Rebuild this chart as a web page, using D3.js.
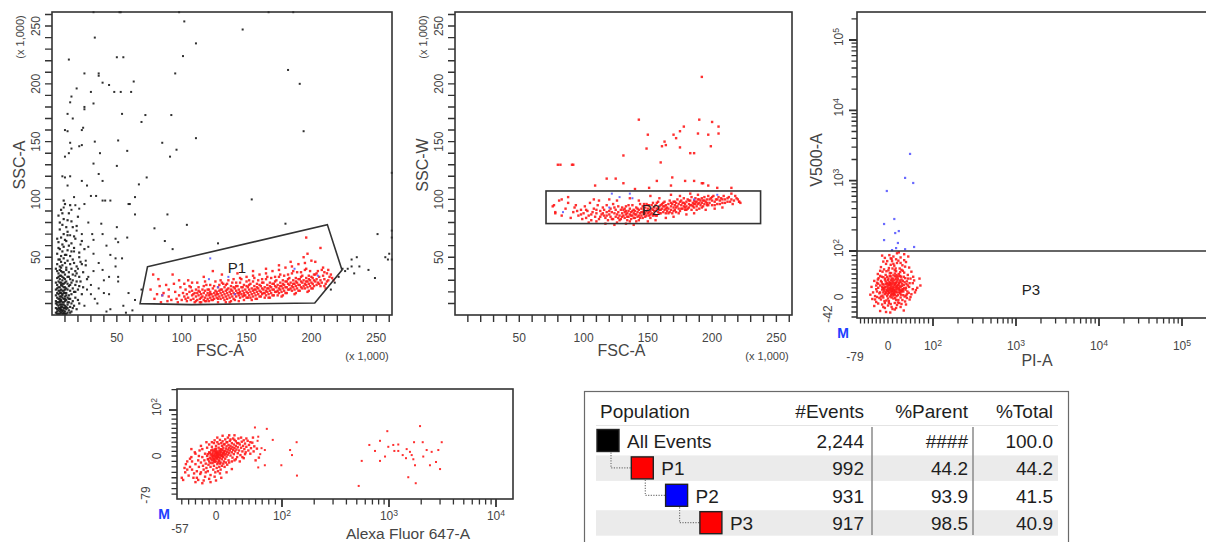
<!DOCTYPE html>
<html>
<head>
<meta charset="utf-8">
<script src="https://cdn.jsdelivr.net/npm/d3@7/dist/d3.min.js"></script>
<style>
  html, body { margin: 0; padding: 0; background: #fff; }
  svg { display: block; }
  text { font-family: "Liberation Sans", Arial, sans-serif; fill: #454545; }
</style>
</head>
<body>
<svg id="chart" width="1206" height="542"></svg>
<script>
// ---------------- Events: FSC-A vs SSC-A (x 1,000) ----------------
// debris / low-FSC events outside P1
const debrisCore = [[3,2],[4,5],[5,1],[5,8],[6,3],[6,6],[7,2],[7,9],[8,4],[8,7],[9,1],[9,6],[10,3],[10,8],[11,5],[12,2],[12,9],[13,4],[14,7],[4,9],[3,6],[6,9],[8,1],[11,1],[15,3],[16,6],[9,4],[7,5],[5,4],[10,6],
[3,12],[4,15],[5,11],[5,18],[6,14],[6,19],[7,12],[7,16],[8,11],[8,18],[9,14],[9,19],[10,12],[10,16],[11,13],[11,19],[12,15],[13,11],[13,17],[14,14],[15,18],[16,12],[4,19],[6,11],[8,15],[10,19],[12,11],[18,15],[20,13],[3,17],
[3,22],[4,26],[5,21],[5,29],[6,24],[7,22],[7,28],[8,25],[9,21],[9,27],[10,24],[11,29],[12,22],[12,27],[13,25],[14,21],[15,28],[16,23],[18,26],[20,22],[4,23],[6,28],[8,21],[10,28],[11,23],[22,29],[17,20],[24,24],
[4,32],[5,36],[6,31],[6,39],[7,34],[8,37],[9,32],[10,35],[11,39],[12,33],[13,37],[14,31],[16,35],[18,38],[5,33],[8,30],[10,31],[21,33],[24,37],[27,31],
[4,44],[5,48],[6,42],[7,46],[8,43],[9,49],[10,45],[11,41],[12,47],[14,44],[16,48],[19,42],[22,46],[26,43],[7,41],
[4,53],[6,57],[7,51],[8,55],[9,59],[10,52],[12,56],[14,51],[17,58],[21,54],[25,57],
[5,63],[7,67],[8,61],[10,65],[12,69],[15,62],[18,66],[23,64],
[6,74],[8,78],[9,83],[11,76],[13,88],[7,91],[10,96],[12,72],[15,81],[19,77],[5,86],[9,99],
[4,3],[5,6],[6,1],[7,7],[8,3],[9,9],[10,1],[11,7],[6,5],[7,4],[8,9],[9,2],[4,11],[5,14],[6,16],[7,13],[8,17],[9,11],[10,14],[11,17],[7,19],[5,24],[6,21],[8,27],[9,24],[7,26],[10,22],[6,34],[8,33],[9,37],[7,38],
[14,26],[16,30],[18,20],[19,29],[21,25],[23,18],[13,33],[15,40],[17,45],[19,36],[21,50],[23,44],[11,52],[13,60],[15,55],[17,68],[9,70],[11,64],[6,48],[4,38],[3,28],[3,40],[5,58],[4,66],[6,80],[8,88],[12,82],[14,95],[16,76],[20,85],[3,10],[4,1],[6,12],[12,6],[13,14],[14,2],[15,10],[17,8],[19,5],[21,10]];

const scatterOutside = [[13,221],[147,247],[111,235],[102,254],[33,240],[50,223],[55,223],[101,224],[25,209],[36,209],[36,207],[39,201],[44,199],[63,202],[95,209],[182,212],[191,200],[19,196],[30,193],[48,193],[53,193],[61,193],[15,189],[14,184],[25,180],[25,178],[32,183],[54,174],[72,173],[92,173],[69,167],[12,174],[16,170],[10,160],[12,159],[23,160],[24,162],[33,150],[51,151],[58,142],[85,149],[96,143],[111,153],[91,137],[194,159],[14,149],[15,144],[21,146],[23,147],[13,140],[37,140],[10,137],[32,131],[50,129],[36,122],[73,119],[39,116],[8,120],[10,119],[14,120],[23,116],[12,112],[27,112],[67,113],[30,103],[34,103],[17,102],[25,96],[39,99],[41,99],[45,99],[59,96],[60,96],[64,102],[64,87],[89,87],[154,100],[9,93],[18,95],[15,91],[21,92],[28,80],[38,79],[50,76],[79,75],[104,78],[128,62],[180,79],[87,64],[93,57],[58,67],[49,66],[51,63],[42,60],[32,65],[39,70],[31,70],[23,70],[19,73],[14,69],[28,59],[32,53],[45,52],[49,49],[54,49],[36,45],[39,39],[49,42],[51,33],[44,33],[32,38],[28,33],[30,26],[36,23],[40,19],[51,29],[59,19],[69,22],[64,13],[44,18],
[224,40],[231,48],[235,50],[231,42],[237,42],[244,39],[233,36],[228,40],[249,32],[251,70],[262,73],[262,67],[260,53],[262,48],[259,48],[257,50],[262,123],[218,28],[215,22],[221,33],[226,38],
[32,262],[52,262],[53,262],[98,262],[167,262],[186,262],
[20,40],[26,47],[17,55],[22,61],[30,18],[25,8],[35,10],[45,5],[55,8],[62,4],[40,30],[18,34],[27,22],[33,14],[42,3],[57,2]];

// P1 events (FSC-A, SSC-A)
const p1FscSscA = [[76,22],[79,14],[82,31],[84,11],[86,19],[88,26],[90,16],[92,13],[93,35],[95,20],[97,11],[98,17],[99,24],[96,14],[89,12],[85,17],
[100,13],[101,19],[102,16],[103,22],[104,12],[104,18],[105,15],[106,20],[106,25],[107,13],[108,17],[108,21],[109,14],[110,19],[110,11],[102,27],[105,30],
[111,16],[111,22],[112,13],[112,19],[113,17],[113,24],[114,14],[114,20],[115,11],[115,18],[116,16],[116,22],[117,13],[117,19],[118,15],[118,21],[119,17],[119,26],[120,14],[120,19],[112,28],[117,33],[114,11],[119,12],
[121,17],[121,22],[122,15],[122,20],[123,13],[123,18],[124,16],[124,23],[125,19],[125,14],[126,17],[126,21],[127,15],[127,20],[128,18],[128,24],[129,16],[129,21],[130,14],[130,19],[122,26],[126,29],[128,11],[124,38],[121,12],[129,26],
[131,17],[131,22],[132,15],[132,20],[133,18],[133,24],[134,16],[134,21],[135,19],[135,14],[136,17],[136,23],[137,20],[137,15],[138,18],[138,25],[139,16],[139,21],[140,19],[140,14],[132,27],[136,30],[138,12],[134,11],[140,24],[131,35],
[141,18],[141,23],[142,16],[142,21],[143,19],[143,25],[144,17],[144,22],[145,20],[145,15],[146,18],[146,24],[147,21],[147,16],[148,19],[148,26],[149,17],[149,22],[150,20],[150,15],[142,28],[146,31],[148,13],[144,12],[150,25],[143,36],
[151,19],[151,24],[152,17],[152,22],[153,20],[153,27],[154,18],[154,23],[155,21],[155,16],[156,19],[156,25],[157,22],[157,17],[158,20],[158,27],[159,18],[159,23],[160,21],[160,16],[152,30],[156,32],[158,14],[154,13],[160,26],[155,38],
[161,20],[161,25],[162,18],[162,23],[163,22],[163,28],[164,19],[164,24],[165,21],[165,17],[166,20],[166,26],[167,23],[167,18],[168,21],[168,28],[169,19],[169,24],[170,22],[170,17],[162,31],[166,33],[168,15],[164,15],[170,27],[165,40],
[171,22],[171,27],[172,20],[172,25],[173,24],[173,30],[174,21],[174,26],[175,23],[175,19],[176,22],[176,28],[177,25],[177,20],[178,23],[178,30],[179,21],[179,26],[180,24],[180,19],[172,33],[176,35],[178,17],[174,17],[180,29],[175,43],
[181,24],[181,29],[182,22],[182,27],[183,26],[183,32],[184,23],[184,28],[185,25],[185,21],[186,24],[186,30],[187,27],[187,22],[188,25],[188,32],[189,23],[189,28],[190,26],[190,21],[182,35],[186,38],[188,19],[184,46],[190,31],
[191,26],[191,31],[192,24],[192,29],[193,28],[193,34],[194,25],[194,30],[195,27],[195,23],[196,26],[196,32],[197,29],[197,24],[198,27],[198,34],[199,25],[199,30],[200,28],[200,23],[192,37],[196,40],[198,21],[194,50],[200,33],[197,53],
[201,27],[201,32],[202,25],[202,30],[203,29],[203,35],[204,26],[204,31],[205,28],[206,33],[207,30],[207,25],[208,28],[209,34],[210,31],[211,27],[212,36],[213,30],[214,33],[216,32],[205,38],[209,41],[211,23],[203,46],[207,58],[196,67],
[103,14],[107,24],[109,18],[111,12],[113,21],[115,15],[117,25],[118,12],[120,22],[122,18],[124,13],[125,25],[127,18],[128,14],[130,22],[131,28],[133,13],[134,26],[135,22],[137,11],[138,22],[139,28],[141,13],[142,25],[144,19],[145,28],[147,24],[148,17],[150,29],[151,15],[152,26],[153,15],[155,29],[156,22],[157,14],[158,24],[159,30],[161,16],[162,28],[163,19],[165,31],[166,23],[167,15],[168,25],[169,32],[171,17],[172,29],[173,20],[175,33],[176,25],[177,16],[178,27],[179,34],[181,19],[182,31],[183,22],[185,36],[186,27],[187,18],[188,29],[189,37],[191,21],[192,33],[193,23],[195,39],[196,29],[197,20],[198,31],[199,38],[201,23],[202,35],[204,36],[206,27],[208,39],[210,25],[212,29],[213,39],[215,35],[217,30],[210,37],[160,35],[150,33],[140,31],[130,30],[170,38],[180,41],[190,44],[200,47],[135,27],[145,32],[155,34],[165,36],[175,39],[185,42],[195,45],[118,29],[108,28],[98,30],[90,22],[94,27],[81,18],[83,25],[78,35]];

// P2 events that fall outside P3 (drawn in the P2 colour)
const p2OnlyFscSscA = [[122,49],[85,17],[121,31],[136,33],[187,40],[205,34],[128,24],[141,18]];

// ---------------- P1 events: FSC-A vs SSC-W (x 1,000) ----------------
const p1FscSscW = [[76,94],[78,88],[81,99],[83,86],[86,92],[88,97],[90,84],[92,89],[94,95],[96,86],[98,91],[99,83],[80,130],[91,130],
[100,88],[101,94],[102,84],[103,90],[104,86],[105,97],[106,82],[107,89],[108,92],[109,85],[110,88],[111,95],[112,83],[113,90],[114,87],[115,93],[104,80],[108,100],[112,99],[110,81],
[116,86],[116,91],[117,84],[118,89],[118,95],[119,82],[120,87],[121,92],[121,85],[122,89],[123,83],[123,96],[124,88],[125,91],[125,85],[126,80],[127,89],[127,94],[128,86],[129,91],[129,83],[130,88],[130,93],[126,99],[120,100],[117,79],[124,78],
[131,86],[131,91],[132,84],[132,89],[133,87],[133,94],[134,82],[134,88],[135,90],[135,85],[136,87],[136,92],[137,83],[137,89],[138,86],[138,95],[139,88],[139,91],[140,84],[140,90],[141,87],[141,93],[142,85],[142,89],[143,91],[143,82],[144,88],[144,96],[145,86],[145,92],[133,79],[139,78],[136,101],[143,99],
[146,89],[146,94],[147,87],[147,91],[148,85],[148,93],[149,90],[149,96],[150,88],[150,92],[151,86],[151,95],[152,90],[152,84],[153,92],[153,88],[154,97],[154,91],[155,87],[155,93],[156,90],[156,95],[157,86],[157,92],[158,89],[158,98],[159,91],[159,94],[160,88],[160,95],[150,81],[156,82],[152,103],[159,101],
[161,92],[161,96],[162,89],[162,94],[163,91],[163,98],[164,88],[164,95],[165,93],[165,90],[166,96],[166,92],[167,89],[167,99],[168,94],[168,91],[169,96],[169,88],[170,93],[170,98],[171,91],[171,95],[172,97],[172,89],[173,94],[173,100],[174,92],[174,96],[175,90],[175,98],[164,84],[170,85],[168,104],[175,103],
[176,95],[176,99],[177,92],[177,97],[178,94],[178,101],[179,96],[179,91],[180,98],[180,94],[181,92],[181,100],[182,96],[182,93],[183,99],[183,95],[184,91],[184,102],[185,97],[185,94],[186,99],[186,93],[187,96],[187,101],[188,98],[188,94],[189,100],[189,96],[190,97],[190,92],[180,87],[186,88],[183,105],[189,104],
[191,99],[191,95],[192,101],[192,97],[193,94],[193,99],[194,102],[194,96],[195,98],[196,100],[196,95],[197,103],[198,97],[199,101],[200,99],[200,95],[201,103],[202,98],[203,100],[204,96],[205,102],[206,99],[207,101],[208,97],[209,103],[210,100],[212,98],[213,102],[215,100],[217,99],[219,101],[221,98],[222,97],[195,91],[202,92],[208,93],
[192,206],[143,169],[150,156],[149,144],[160,132],[161,146],[163,150],[164,147],[172,153],[170,156],[175,159],[178,163],[186,140],[183,140],[190,169],[189,157],[197,156],[200,167],[205,157],[205,163],[199,146],[131,138],[82,130],[92,130],[175,145],
[109,112],[118,118],[125,118],[131,114],[140,109],[151,110],[157,116],[169,119],[168,112],[179,116],[186,116],[192,114],[193,114],[197,112],[204,110],[215,110],[215,105],[221,98],[88,102],[83,100],[77,95],[78,89],[93,93],
[118,86],[120,90],[122,83],[124,93],[126,87],[128,82],[130,85],[132,92],[134,85],[135,95],[136,81],[137,86],[138,90],[139,84],[140,87],[141,81],[142,92],[143,86],[144,84],[145,89],[146,84],[147,96],[148,88],[149,86],[150,95],[151,89],[152,87],[153,95],[154,86],[155,90],[156,86],[157,97],[158,92],[160,91],[162,97],[164,92],[166,88],[168,97],[170,90],[172,93],[174,88],[176,92],[178,97],[180,91],[182,99],[184,95],[186,96],[188,91],[190,100],[192,93],[194,99],[196,97],[198,100],[200,102],[202,95],[204,100],[206,96],[208,100],[210,97],[212,101],[214,98],[216,96],[218,103],[220,100],[110,91],[106,87],[102,91],[98,87],[95,90],[113,85],[115,88],[127,84],[133,90],[147,89],[159,88],[163,94],[171,98],[179,93],[187,98],[197,95]];
const p2OnlyFscSscW = [[84,89],[122,105],[128,102],[136,105],[138,101],[186,100],[204,104],[120,93]];

// ---------------- P2 events: PI-A vs V500-A ----------------
const p3PiV500 = [[-20,-28],[5,-31],[15,-25],[-8,-22],[28,-20],[-35,-18],[0,-17],[20,-16],[-15,-15],[10,-24],[35,-27],[-5,-30],[25,-12],
[-30,-10],[-18,-5],[-8,-12],[2,-8],[12,-3],[22,-11],[32,-6],[42,-2],[-40,-4],[-12,-1],[6,-14],[18,-6],[28,-1],[-25,-13],[38,-9],[0,-3],[-4,-7],[15,-12],[8,-1],[48,-5],
[-45,5],[-33,2],[-22,8],[-14,3],[-6,11],[0,6],[5,1],[9,13],[14,7],[19,2],[24,10],[29,5],[34,12],[40,3],[46,9],[52,6],[-28,12],[-10,14],[3,9],[12,12],[22,4],[31,14],[-18,1],[-2,2],[7,4],[17,11],[27,8],[37,1],[60,10],[-38,10],
[-42,22],[-30,17],[-20,25],[-13,19],[-5,28],[1,16],[6,23],[11,18],[16,27],[21,20],[26,15],[31,24],[36,19],[41,28],[47,22],[55,17],[-25,29],[-9,21],[4,30],[13,15],[18,22],[24,29],[33,17],[44,25],[-15,16],[-1,24],[9,27],[20,16],[28,21],[39,16],[65,20],[72,25],
[-35,35],[-24,41],[-16,32],[-8,38],[-2,44],[3,33],[8,40],[14,36],[19,43],[25,31],[30,38],[35,44],[42,34],[50,40],[-12,43],[0,37],[11,31],[17,39],[23,45],[28,33],[38,41],[58,36],[-28,31],[6,45],[70,40],
[-26,50],[-14,55],[-6,48],[1,58],[7,52],[12,47],[18,56],[24,50],[30,59],[36,53],[44,48],[-20,57],[4,46],[15,51],[27,46],[33,57],[52,55],[-10,60],
[-18,65],[-5,72],[2,63],[9,78],[14,68],[20,74],[26,62],[32,69],[40,76],[-12,77],[6,70],[23,79],[47,64],[17,62],[36,80],
[-8,85],[3,91],[12,88],[20,95],[28,86],[36,93],[-15,90],[8,83],[24,97],[45,88],
[2,10],[6,18],[10,22],[14,26],[4,15],[8,8],[12,3],[16,14],[18,30],[0,20],[-4,16],[-8,6],[10,35],[22,26],[26,36],[5,27],[15,5],[20,10],[-3,31],[28,12],[31,29],[9,17],[13,21],[19,33],[-11,27],[24,19],[7,36],[1,40],[16,45],[-6,34],
[-20,10],[-15,22],[-10,18],[-5,8],[0,12],[5,20],[10,6],[15,30],[20,24],[25,16],[30,12],[35,26],[40,20],[-25,20],[-18,35],[-12,10],[-6,22],[-2,14],[3,26],[7,12],[11,40],[13,9],[17,18],[21,36],[26,24],[29,44],[32,16],[37,32],[43,12],[48,30],[-30,25],[-22,-2],[-16,44],[-9,-8],[2,-12],[8,-20],[16,-2],[23,-6],[34,4],[44,40],[55,30],[62,15],[-33,-5],[-26,38],[4,52],[10,62],[19,48],[27,54],[38,66],[-4,56],[12,72],[28,74],[6,84],[18,82],[-2,78],[30,-14],[-12,-20],[18,-22],[40,-15],[-28,0],[50,0],[56,44],[-20,46],[22,40],[15,58],[-7,40],[0,28],[7,30],[33,35],[42,6],[-14,28]];
const p2OnlyPiV500 = [[49,2400],[38,1095],[56,927],[-3,713],[14,285],[-10,242],[24,192],[16,180],[-10,143],[22,130],[18,110],[58,114],[9,103],[38,106]];
const p3GateV500 = 100;

// ---------------- Alexa Fluor 647-A ----------------
const alexaMain = [[-48,-44],[-45,-30],[-40,-36],[-38,-20],[-35,-25],[-33,-40],[-30,-15],[-28,-28],[-26,-8],[-25,-20],[-23,-33],[-22,-12],[-20,-2],[-19,-18],[-18,-25],[-17,-8],[-16,5],[-15,-14],[-14,-22],[-13,0],[-12,-6],[-11,-16],[-10,8],[-10,-10],[-9,-3],[-8,-20],[-8,3],[-7,12],[-6,-8],[-6,-1],[-5,6],[-5,-13],[-4,-4],[-4,10],[-3,1],[-3,-18],[-2,-7],[-2,4],[-1,15],[-1,-2],[0,7],[0,-10],[0,1],[1,-5],[1,11],[2,3],[2,-15],[3,-1],[3,8],[4,18],[4,-8],[5,2],[5,12],[6,-4],[6,6],[7,-12],[7,15],[8,0],[8,9],[9,22],[9,-6],[10,4],[10,13],[11,-2],[11,18],[12,7],[12,-10],[13,26],[13,2],[14,11],[14,-5],[15,16],[15,5],[16,21],[16,-1],[17,9],[17,30],[18,14],[18,3],[19,24],[19,-8],[20,7],[20,18],[21,12],[21,33],[22,1],[22,22],[23,16],[24,8],[24,28],[25,-3],[25,19],[26,13],[27,25],[27,4],[28,35],[28,17],[29,10],[30,22],[30,-6],[31,14],[32,28],[33,6],[33,19],[34,38],[35,12],[36,25],[37,2],[38,18],[39,31],[40,10],[41,22],[42,-4],[43,15],[44,27],[45,8],[46,20],[48,33],[49,12],[50,24],[52,5],[53,17],[55,29],[57,10],[58,21],[60,-8],
[-6,3],[-3,-6],[0,-3],[2,6],[-1,9],[4,-2],[-4,0],[1,1],[3,4],[-2,-11],[6,10],[-7,-5],[8,14],[5,-9],[-9,7],[10,-1],[-5,14],[7,3],[-11,-6],[12,10],[-8,-13],[2,-4],[-2,12],[0,16],[3,-12],[9,1],[-12,4],[6,-14],[11,6],[-3,-9],
[-50,-40],[-42,-10],[-36,-2],[-31,8],[-24,12],[-46,-22],
[-35,-10],[-30,5],[-28,-40],[-25,0],[-22,-30],[-20,15],[-18,-45],[-15,-30],[-13,18],[-12,-28],[-10,25],[-8,-35],[-6,20],[-4,-25],[-3,28],[-1,-30],[0,22],[1,-22],[2,30],[3,-28],[4,26],[5,-20],[6,35],[7,-25],[8,28],[9,-18],[10,32],[11,-14],[12,25],[13,-20],[14,36],[15,-12],[16,30],[17,-16],[18,40],[20,-12],[22,36],[24,-10],[26,38],[28,-8],[30,32],[32,-2],[34,28],[36,-10],[38,40],[40,-2],[42,34],[44,4],[46,38],[-16,-38],[-10,-42],[-2,-38],[6,-32],[-42,-25],[-38,-5],[-32,-32],[-44,-15],[-26,-44],[-6,30],[2,40],[10,44],[20,45],[28,45],[-14,30],[-22,22],[-30,-48],[-20,-50],[-8,-48],[0,-45],[52,30],[56,40],[62,16],[65,-3],[8,-40],[16,-30],[24,-24],[-36,15],[-2,34]];
const alexaHigh = [[59,62],[77,59],[64,42],[63,33],[69,17],[74,13],[67,4],[86,35],[64,-21],[74,-17],[99,-17],[119,13],[137,30],[124,2],[138,-36],
[556,-9],[655,24],[740,11],[824,33],[824,-9],[964,54],[985,20],[1096,24],[1221,25],[1221,11],[1343,2],[1442,-4],[1514,-39],[1570,9],[1630,2],[1688,-6],[1714,30],[1750,-17],[1778,-50],[1950,65],[2066,30],[2090,-1],[2249,13],[2415,-17],[2505,9],[2750,-11],[2890,13],[3000,-24],[3110,30],[521,-55],[918,-1],[1463,15],[1122,11]];

// ---------------- Gates ----------------
const p1Gate = [[73.6,41.7],[212.3,78.2],[223.6,38.9],[202.6,10.4],[107.7,9.0],[67.9,9.8]];
const p2GateFsc = [70.8, 237.7];
const p2GateSscW = [79.1, 107.3];

// ---------------- Population hierarchy ----------------
const tableHeader = ["Population", "#Events", "%Parent", "%Total"];
const popNames = ["All Events", "P1", "P2", "P3"];
const popEvents = ["2,244", "992", "931", "917"];
const popParent = ["####", "44.2", "93.9", "98.5"];
const popTotal = ["100.0", "44.2", "41.5", "40.9"];
const popColors = ["#000000", "#ff0000", "#0000ff", "#ff0000"];

// ================= drawing =================
const svg = d3.select("#chart");
const INK = "#333";
const RED = "#ff1a1a", BLACK = "#1a1a1a", BLUE = "#5a5aff";

// linear region around zero joined to a log region above 100
function hybridScale(lo, linRange, logTop, logRange) {
  const lin = d3.scaleLinear([lo, 0, 100], linRange);
  const lg = d3.scaleLog([100, logTop], logRange);
  return v => (v <= 100 ? lin(v) : lg(v));
}
function hybridTicks(lo, hi) {
  const t = [];
  for (let v = Math.ceil(lo / 10) * 10; v < 100; v += 10) t.push({ v, major: false });
  for (let e = 2; Math.pow(10, e) <= hi; e++)
    for (let k = 1; k <= 9; k++) {
      const v = k * Math.pow(10, e);
      if (v <= hi) t.push({ v, major: k === 1 });
    }
  return t;
}
// tick marks as one path per axis
function tickPath(g, positions, orient, edge, len, width) {
  const d = positions.map(p => orient === "bottom"
    ? `M${p},${edge}V${edge + len}`
    : `M${edge},${p}H${edge - len}`).join("");
  g.append("path").attr("d", d).attr("fill", "none")
    .attr("stroke", INK).attr("stroke-width", width);
}

function dots(g, data, sx, sy, color, size) {
  g.selectAll(null).data(data).join("rect")
    .attr("x", d => sx(d[0]) - size / 2)
    .attr("y", d => sy(d[1]) - size / 2)
    .attr("width", size).attr("height", size)
    .attr("fill", color).attr("fill-opacity", 0.9);
}
function vText(g, x, y, size, str) {
  return g.append("text")
    .attr("transform", `translate(${x},${y}) rotate(-90)`)
    .attr("text-anchor", "middle").attr("font-size", size)
    .text(str === undefined ? null : str);
}
function powText(t, e) {
  t.append("tspan").text("10");
  t.append("tspan").attr("dy", "-0.5em").attr("font-size", "0.72em").text(e);
}
function frame(g, x0, y0, x1, y1) {
  g.append("rect").attr("x", x0).attr("y", y0)
    .attr("width", x1 - x0).attr("height", y1 - y0)
    .attr("fill", "none").attr("stroke", INK).attr("stroke-width", 1.6);
}

// ---- linear FSC/SSC panels ----
function linearPanel(box, yTitle, labelX, unitX, titleX) {
  const g = svg.append("g");
  const sx = d3.scaleLinear([0, 262.144], [box.x0, box.x1]);
  const sy = d3.scaleLinear([0, 262.144], [box.y1, box.y0]);
  const tv = d3.range(10, 261, 10);
  tickPath(g, tv.map(sx), "bottom", box.y1, 7, 1.4);
  tickPath(g, tv.map(sy), "left", box.x0, 7, 1.4);
  const lv = [50, 100, 150, 200, 250];
  g.selectAll(null).data(lv).join("text")
    .attr("x", d => sx(d)).attr("y", box.y1 + 27)
    .attr("text-anchor", "middle").attr("font-size", 12).text(d => d);
  lv.forEach(d => vText(g, labelX, sy(d), 12, d));
  vText(g, unitX, 37, 11, "(x 1,000)");
  vText(g, titleX, 165, 16, yTitle);
  g.append("text").attr("x", (box.x0 + box.x1) / 2 - 2).attr("y", 356)
    .attr("text-anchor", "middle").attr("font-size", 16).text("FSC-A");
  g.append("text").attr("x", box.x1 - 25).attr("y", 360)
    .attr("text-anchor", "middle").attr("font-size", 11).text("(x 1,000)");
  return { g, sx, sy };
}

// Panel 1: FSC-A / SSC-A
const box1 = { x0: 52, y0: 12, x1: 392, y1: 315 };
const p1 = linearPanel(box1, "SSC-A", 40, 24, 25);
dots(p1.g, debrisCore, p1.sx, p1.sy, BLACK, 2.2);
dots(p1.g, scatterOutside, p1.sx, p1.sy, BLACK, 2);
dots(p1.g, p1FscSscA, p1.sx, p1.sy, RED, 2.4);
dots(p1.g, p2OnlyFscSscA, p1.sx, p1.sy, BLUE, 2);
p1.g.append("path")
  .attr("d", d3.line().x(d => p1.sx(d[0])).y(d => p1.sy(d[1])).curve(d3.curveLinearClosed)(p1Gate))
  .attr("fill", "none").attr("stroke", INK).attr("stroke-width", 1.6);
p1.g.append("text").attr("x", 237).attr("y", 273).attr("text-anchor", "middle")
  .attr("font-size", 15).style("fill", "#222").text("P1");
frame(p1.g, box1.x0, box1.y0, box1.x1, box1.y1);

// Panel 2: FSC-A / SSC-W
const box2 = { x0: 455, y0: 12, x1: 792, y1: 315 };
const p2 = linearPanel(box2, "SSC-W", 443, 427, 428);
dots(p2.g, p1FscSscW, p2.sx, p2.sy, RED, 2.4);
dots(p2.g, p2OnlyFscSscW, p2.sx, p2.sy, BLUE, 2);
p2.g.append("rect")
  .attr("x", p2.sx(p2GateFsc[0])).attr("y", p2.sy(p2GateSscW[1]))
  .attr("width", p2.sx(p2GateFsc[1]) - p2.sx(p2GateFsc[0]))
  .attr("height", p2.sy(p2GateSscW[0]) - p2.sy(p2GateSscW[1]))
  .attr("fill", "none").attr("stroke", INK).attr("stroke-width", 1.6);
p2.g.append("text").attr("x", 651).attr("y", 215).attr("text-anchor", "middle")
  .attr("font-size", 15).style("fill", "#222").text("P2");
frame(p2.g, box2.x0, box2.y0, box2.x1, box2.y1);

// hybrid axis ticks + labels
function hybridAxis(g, scale, lo, hi, orient, edge, o) {
  const t = hybridTicks(lo, hi);
  tickPath(g, t.filter(d => !d.major).map(d => scale(d.v)), orient, edge, 5.5, 1.3);
  tickPath(g, t.filter(d => d.major).map(d => scale(d.v)), orient, edge, 8, 1.8);
  const decades = t.filter(d => d.major).map(d => Math.round(Math.log10(d.v)));
  if (orient === "bottom") {
    g.append("text").attr("x", scale(0)).attr("y", o.lab).attr("text-anchor", "middle").attr("font-size", 12).text("0");
    g.append("text").attr("x", scale(lo) + o.minDx).attr("y", o.minY).attr("text-anchor", "middle").attr("font-size", 12).text(lo);
    decades.forEach(e => {
      const tx = g.append("text").attr("x", scale(Math.pow(10, e))).attr("y", o.lab).attr("text-anchor", "middle").attr("font-size", 12);
      powText(tx, e);
    });
  } else {
    vText(g, o.lab, scale(0), 12, "0");
    vText(g, o.minX, scale(lo) - 4, 12, lo);
    decades.forEach(e => powText(vText(g, o.lab, scale(Math.pow(10, e)) - 3, 12), e));
  }
}
function markM(g, x, y) {
  g.append("text").attr("x", x).attr("y", y).attr("text-anchor", "middle")
    .attr("font-size", 14).attr("font-weight", "bold").style("fill", "#2040ff").text("M");
}

// Panel 3: PI-A / V500-A
const g3 = svg.append("g");
const sx3 = hybridScale(-79, [857, 888, 933], 1e5, [933, 1182]);
const sy3 = hybridScale(-42, [318, 297, 251], 1e5, [251, 40]);
hybridAxis(g3, sx3, -79, 262143, "bottom", 318, { lab: 350, minY: 361, minDx: -2 });
hybridAxis(g3, sy3, -42, 262143, "left", 857, { lab: 843, minX: 832 });
dots(g3, p3PiV500, sx3, sy3, RED, 2.4);
dots(g3, p2OnlyPiV500, sx3, sy3, BLUE, 2.2);
g3.append("line").attr("x1", 857).attr("x2", 1210)
  .attr("y1", sy3(p3GateV500)).attr("y2", sy3(p3GateV500))
  .attr("stroke", INK).attr("stroke-width", 1.6);
g3.append("text").attr("x", 1031).attr("y", 295).attr("text-anchor", "middle")
  .attr("font-size", 15).style("fill", "#222").text("P3");
frame(g3, 857, 12, 1212, 318);
vText(g3, 822, 160, 16, "V500-A");
g3.append("text").attr("x", 1037).attr("y", 366).attr("text-anchor", "middle").attr("font-size", 16).text("PI-A");
markM(g3, 843, 338);

// Panel 4: Alexa Fluor 647-A
const g4 = svg.append("g");
const sx4 = hybridScale(-57, [177, 216, 282], 1e4, [282, 496]);
const sy4 = hybridScale(-79, [499, 456, 410], 1e3, [410, 342]);
hybridAxis(g4, sx4, -57, 14400, "bottom", 499, { lab: 520, minY: 533, minDx: 3 });
hybridAxis(g4, sy4, -79, 204, "left", 177, { lab: 161, minX: 150 });
dots(g4, alexaMain, sx4, sy4, RED, 2.4);
dots(g4, alexaHigh, sx4, sy4, RED, 2);
frame(g4, 177, 389, 513, 499);
g4.append("text").attr("x", 408).attr("y", 539).attr("text-anchor", "middle").attr("font-size", 15.5).text("Alexa Fluor 647-A");
markM(g4, 164, 519);

// ---- population table ----
const tb = svg.append("g");
tb.append("rect").attr("x", 584.5).attr("y", 391.5).attr("width", 484).attr("height", 170)
  .attr("fill", "#fff").attr("stroke", "#6a6a6a").attr("stroke-width", 1.2);
const rowY = i => 440.5 + i * 27.4;
const sqX = i => 597 + i * 34.3;
tb.selectAll(null).data([1, 3]).join("rect")
  .attr("x", 596).attr("width", 462)
  .attr("y", i => rowY(i) - 12.5).attr("height", 25.5)
  .attr("fill", "#ebebeb");
tb.append("path").attr("d", "M596,425.5H1058").attr("stroke", "#e4e4e4").attr("stroke-width", 1);
tb.append("path").attr("d", "M872,427V535M973,427V535").attr("stroke", "#8a8a8a").attr("stroke-width", 1.5);
const colX = [600, 864, 968, 1053];
tableHeader.forEach((h, j) => tb.append("text").attr("x", colX[j]).attr("y", 418)
  .attr("text-anchor", j === 0 ? "start" : "end").attr("font-size", 19).style("fill", "#1e1e1e").text(h));
popNames.forEach((n, i) => {
  if (i > 0) {
    const vx = sqX(i - 1) + 14;
    tb.append("path")
      .attr("d", `M${vx},${rowY(i - 1) + 12} V${rowY(i)} H${sqX(i)}`)
      .attr("fill", "none").attr("stroke", "#777").attr("stroke-width", 1.2)
      .attr("stroke-dasharray", "1.2,1.4");
  }
  tb.append("rect").attr("x", sqX(i)).attr("y", rowY(i) - 11).attr("width", 22).attr("height", 22)
    .attr("fill", popColors[i]).attr("stroke", "#222").attr("stroke-width", 1.4);
  tb.append("text").attr("x", sqX(i) + 30).attr("y", rowY(i) + 7.5).attr("font-size", 19).style("fill", "#1e1e1e").text(n);
  [popEvents[i], popParent[i], popTotal[i]].forEach((v, j) =>
    tb.append("text").attr("x", colX[j + 1]).attr("y", rowY(i) + 7.5).attr("text-anchor", "end")
      .attr("font-size", 19).style("fill", "#1e1e1e").text(v));
});
</script>
</body>
</html>
